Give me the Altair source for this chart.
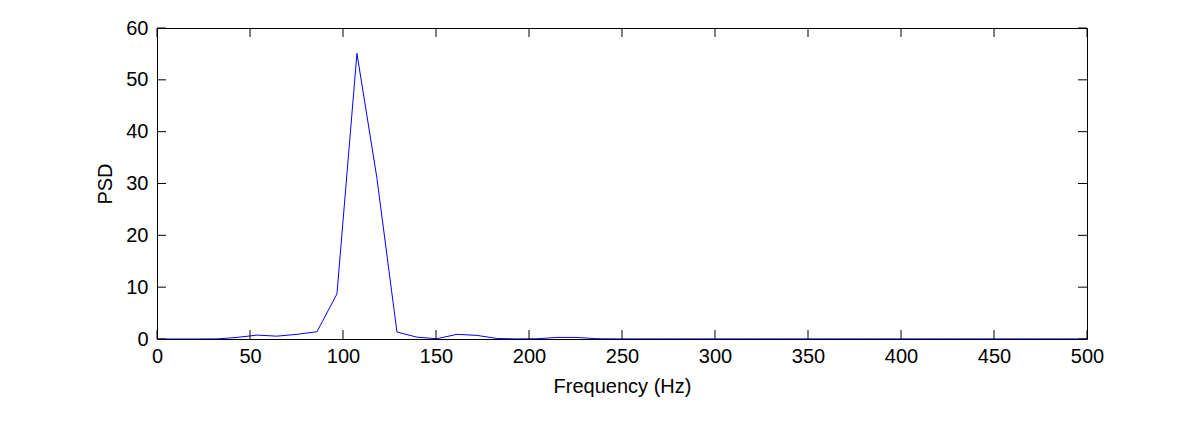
import altair as alt
import pandas as pd

# Frequency bins (Hz) and PSD values
freq = [0, 10.75, 21.5, 32.25, 43, 53.75, 64.5, 75.25, 86, 96.75,
        107.5, 118.25, 129, 139.75, 150.5, 161.25, 172, 182.75, 193.5, 204.25,
        215, 225.75, 236.5, 247.25, 258, 268.75, 279.5, 290.25, 301, 311.75,
        322.5, 333.25, 344, 354.75, 365.5, 376.25, 387, 397.75, 408.5, 419.25,
        430, 440.75, 451.5, 462.25, 473, 483.75, 494.5, 500]
psd = [0, 0, 0, 0.02, 0.3, 0.75, 0.55, 0.9, 1.4, 8.7,
       55.1, 31.0, 1.35, 0.35, 0.05, 0.9, 0.7, 0.1, 0.02, 0.05,
       0.3, 0.3, 0.05, 0.02, 0.02, 0.02, 0.02, 0.02, 0.02, 0.02,
       0.02, 0.02, 0.02, 0.02, 0.02, 0.02, 0.02, 0.02, 0.02, 0.02,
       0.02, 0.02, 0.02, 0.02, 0.02, 0.02, 0.02, 0.02]

x_ticks = [0, 50, 100, 150, 200, 250, 300, 350, 400, 450, 500]
y_ticks = [0, 10, 20, 30, 40, 50, 60]

W, H = 930, 311
TL = 9  # inward tick length
FONT = "Liberation Sans"

df = pd.DataFrame({"f": freq, "p": psd})
dfx = pd.DataFrame({"t": x_ticks})
dfy = pd.DataFrame({"t": y_ticks})

xscale = alt.Scale(domain=[0, 500], nice=False, zero=False)
yscale = alt.Scale(domain=[0, 60], nice=False, zero=False)

line = alt.Chart(df).mark_line(color="#0000ff", strokeWidth=1, clip=True).encode(
    x=alt.X("f:Q", scale=xscale, title="Frequency (Hz)",
            axis=alt.Axis(values=x_ticks, ticks=False, domain=False, grid=False,
                          labelPadding=7, labelFontSize=20, labelFont=FONT,
                          labelColor="black", labelFlush=False,
                          titleFontSize=20, titleFont=FONT, titleFontWeight="normal",
                          titleColor="black", titleY=53, titleBaseline="alphabetic")),
    y=alt.Y("p:Q", scale=yscale, title="PSD",
            axis=alt.Axis(values=y_ticks, ticks=False, domain=False, grid=False,
                          labelPadding=9, labelFontSize=20, labelFont=FONT,
                          labelColor="black", labelFlush=False,
                          titleFontSize=20, titleFont=FONT, titleFontWeight="normal",
                          titleColor="black", titleAngle=270, titleX=-46,
                          titleY=H / 2, titleAlign="center",
                          titleBaseline="alphabetic")),
)

tick_style = dict(color="black", strokeWidth=1)

bottom_ticks = alt.Chart(dfx).mark_rule(**tick_style).encode(
    x=alt.X("t:Q", scale=xscale), y=alt.value(H), y2=alt.value(H - TL))
top_ticks = alt.Chart(dfx).mark_rule(**tick_style).encode(
    x=alt.X("t:Q", scale=xscale), y=alt.value(0), y2=alt.value(TL))
left_ticks = alt.Chart(dfy).mark_rule(**tick_style).encode(
    y=alt.Y("t:Q", scale=yscale), x=alt.value(0), x2=alt.value(TL))
right_ticks = alt.Chart(dfy).mark_rule(**tick_style).encode(
    y=alt.Y("t:Q", scale=yscale), x=alt.value(W), x2=alt.value(W - TL))

chart = alt.layer(line, bottom_ticks, top_ticks, left_ticks, right_ticks).properties(
    width=W, height=H,
    autosize=alt.AutoSizeParams(type="none"),
    padding={"left": 157, "top": 28, "right": 1200 - 157 - W, "bottom": 438 - 28 - H},
    background="white",
).configure_view(stroke="black", strokeWidth=1)

chart.save("out.html", embed_options={"renderer": "svg", "actions": False})
